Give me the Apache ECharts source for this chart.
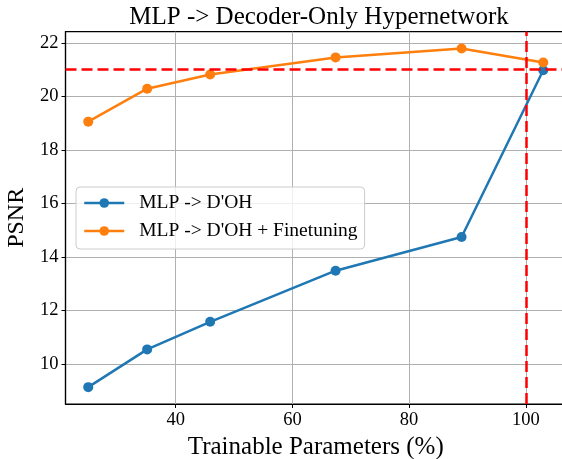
<!DOCTYPE html>
<html>
<head>
<meta charset="utf-8">
<script src="https://cdn.jsdelivr.net/npm/echarts@6/dist/echarts.min.js"></script>
<style>
html,body{margin:0;padding:0;background:#fff;}
#chart{width:562px;height:459px;}
</style>
</head>
<body>
<div id="chart"></div>
<script>
const xParams = [25, 35.1, 45.9, 67.4, 89.0, 103.0];
const doh = [9.14, 10.55, 11.58, 13.49, 14.75, 20.98];
const dohFinetune = [19.06, 20.29, 20.82, 21.46, 21.79, 21.27];
const xTicks = [40, 60, 80, 100];
const yTicks = [10, 12, 14, 16, 18, 20, 22];
const refPSNR = 21;
const refParams = 100;

const FONT = '"Liberation Serif", "DejaVu Serif", serif';
const chart = echarts.init(document.getElementById('chart'));
const pairs = ys => xParams.map((x, i) => [x, ys[i]]);

chart.setOption({
  animation: false,
  backgroundColor: '#fff',
  title: {
    text: 'MLP -> Decoder-Only Hypernetwork',
    left: 314, top: 0, textAlign: 'center',
    textStyle: { fontFamily: FONT, fontSize: 25, fontWeight: 'normal', color: '#000' }
  },
  legend: {
    left: 76, top: 187, orient: 'vertical',
    itemWidth: 40, itemHeight: 12, itemGap: 8,
    padding: [6, 7, 8, 7],
    backgroundColor: 'rgba(255,255,255,0.8)',
    borderColor: '#cccccc', borderWidth: 1, borderRadius: 4,
    lineStyle: { width: 2.5 },
    textStyle: { fontFamily: FONT, fontSize: 19.5, color: '#000', padding: [0, 0, 0, 10], lineHeight: 20 },
    data: ["MLP -> D'OH", "MLP -> D'OH + Finetuning"]
  },
  grid: {
    left: 65.5, right: -4, top: 31.7, bottom: 55,
    outerBoundsMode: 'none', containLabel: false,
    show: true, borderColor: '#000', borderWidth: 1.2, backgroundColor: 'transparent'
  },
  xAxis: {
    type: 'value', min: 21.1, max: 106.9,
    name: 'Trainable Parameters (%)', nameLocation: 'middle', nameGap: 25,
    nameTextStyle: { fontFamily: FONT, fontSize: 25, color: '#000' },
    axisLine: { show: true, lineStyle: { color: '#000', width: 1.2 } },
    axisTick: { show: true, customValues: xTicks, length: 4, lineStyle: { color: '#000' } },
    axisLabel: { customValues: xTicks, fontFamily: FONT, fontSize: 18.5, color: '#000', margin: 7 },
    splitLine: { show: true, lineStyle: { color: '#b0b0b0', width: 1 } }
  },
  yAxis: {
    type: 'value', min: 8.51, max: 22.42,
    name: 'PSNR', nameLocation: 'middle', nameGap: 30,
    nameTextStyle: { fontFamily: FONT, fontSize: 24, color: '#000' },
    axisLine: { show: true, lineStyle: { color: '#000', width: 1.2 } },
    axisTick: { show: true, customValues: yTicks, length: 4, lineStyle: { color: '#000' } },
    axisLabel: { customValues: yTicks, fontFamily: FONT, fontSize: 18.5, color: '#000', margin: 7 },
    splitLine: { show: true, lineStyle: { color: '#b0b0b0', width: 1 } }
  },
  series: [
    {
      name: "MLP -> D'OH", type: 'line', data: pairs(doh),
      symbol: 'circle', symbolSize: 10, z: 3,
      color: '#1f77b4', lineStyle: { width: 2.5 }
    },
    {
      name: "MLP -> D'OH + Finetuning", type: 'line', data: pairs(dohFinetune),
      symbol: 'circle', symbolSize: 10, z: 3,
      color: '#ff7f0e', lineStyle: { width: 2.5 }
    },
    {
      name: 'ref', type: 'line', data: [], z: 4,
      markLine: {
        silent: true, symbol: 'none', label: { show: false },
        lineStyle: { color: '#ff0000', type: [11, 5], width: 2.5 },
        data: [{ yAxis: refPSNR }, { xAxis: refParams }]
      }
    }
  ]
});
</script>
</body>
</html>
